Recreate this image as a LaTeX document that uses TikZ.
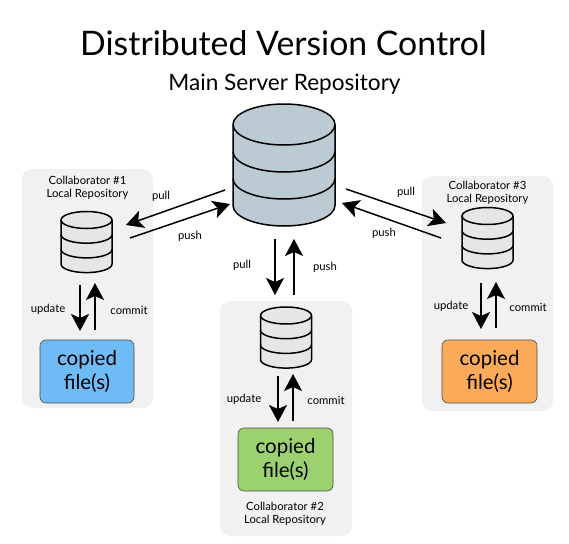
\documentclass[tikz,border=0pt]{standalone}
\usepackage{fontspec}
\setmainfont{Lato}
\usetikzlibrary{arrows.meta}
\definecolor{panelgray}{HTML}{F1F1F1}
\definecolor{mainblue}{HTML}{BCCAD3}
\definecolor{localgray}{HTML}{E6E6E6}
\definecolor{fileblue}{HTML}{6EBBF5}
\definecolor{filegreen}{HTML}{9BD16F}
\definecolor{fileorange}{HTML}{FBAA5A}
% #1 x, #2 top y, #3 rx, #4 ry, #5 gap, #6 fill, #7 line width
\newcommand{\dbstack}[7]{
	\filldraw[fill=#6, line width=#7] (#1-#3,#2) -- (#1-#3,#2+3*#5) arc[start angle=180, end angle=0, x radius=#3, y radius=#4] -- (#1+#3,#2) arc[start angle=0, end angle=-180, x radius=#3, y radius=#4];
	\foreach \k in {0,1,2}
		\draw[line width=#7] (#1-#3,#2+\k*#5) arc[start angle=180, end angle=0, x radius=#3, y radius=#4];
}
\tikzset{
	panel/.style={fill=panelgray, rounded corners=10pt},
	filebox/.style={draw=black!70, line width=0.6pt, rounded corners=6pt, minimum width=95pt, minimum height=63pt, align=center, inner sep=0pt, font=\fontsize{20.5}{24}\selectfont},
	label style/.style={font=\fontsize{11.3}{13}\selectfont, inner sep=0pt, align=center},
	flow/.style={->, line width=1.5pt}
}
\begin{document}
\begin{tikzpicture}[x=1pt, y=-1pt, line join=round, >={Stealth[length=17pt,width=18pt,inset=4pt]}]
	\useasboundingbox (0,0) rectangle (569,543);
	\node (title) at (283.5,43)[font=\fontsize{33.8}{40}\selectfont, inner sep=0pt]{Distributed Version Control};
	\node (subtitle) at (284.5,84)[font=\fontsize{22.6}{26}\selectfont, inner sep=0pt]{Main Server Repository};
	% panels
	\fill[panel] (22,169) rectangle (153,408);
	\fill[panel] (220,301) rectangle (352,536);
	\fill[panel] (422,176) rectangle (553,411);
	% databases
	\dbstack{284}{124.5}{51}{20.5}{27}{mainblue}{1.5pt}
	\dbstack{86.5}{220}{25.5}{8.5}{14.7}{localgray}{1.5pt}
	\dbstack{286}{315.5}{25.5}{8.5}{14.7}{localgray}{1.5pt}
	\dbstack{487.5}{216}{25.5}{8.5}{14.7}{localgray}{1.5pt}
	% file boxes
	\node (fileA) at (87,371.5)[filebox, fill=fileblue, minimum width=94pt]{copied\\file(s)};
	\node (fileB) at (285.5,459.5)[filebox, fill=filegreen]{copied\\file(s)};
	\node (fileC) at (489.5,371.5)[filebox, fill=fileorange]{copied\\file(s)};
	% labels
	\node (collabA) at (87.5,188)[label style]{Collaborator \#1\\Local Repository};
	\node (collabB) at (285,514)[label style]{Collaborator \#2\\Local Repository};
	\node (collabC) at (487.5,193)[label style]{Collaborator \#3\\Local Repository};
	\node (pullA) at (161,196)[label style]{pull};
	\node (pushA) at (190,236)[label style]{push};
	\node (pullB) at (242,265)[label style]{pull};
	\node (pushB) at (325,267)[label style]{push};
	\node (pullC) at (406,192)[label style]{pull};
	\node (pushC) at (384,233)[label style]{push};
	\node (updateA) at (48,309)[label style]{update};
	\node (commitA) at (129,310)[label style]{commit};
	\node (updateB) at (244,399)[label style]{update};
	\node (commitB) at (326,400)[label style]{commit};
	\node (updateC) at (451,306)[label style]{update};
	\node (commitC) at (528,307)[label style]{commit};
	% arrow ends
	\coordinate (pullAs) at (225,190);
	\coordinate (pullAe) at (126,225);
	\coordinate (pushAs) at (130,238);
	\coordinate (pushAe) at (230,204);
	\coordinate (pullBs) at (275,239);
	\coordinate (pullBe) at (275,295);
	\coordinate (pushBs) at (294,295);
	\coordinate (pushBe) at (294,239);
	\coordinate (pullCs) at (346,189);
	\coordinate (pullCe) at (446,223);
	\coordinate (pushCs) at (441,238);
	\coordinate (pushCe) at (342,203);
	\coordinate (updateAs) at (80,285);
	\coordinate (updateAe) at (80,331);
	\coordinate (commitAs) at (95,330);
	\coordinate (commitAe) at (95,283);
	\coordinate (updateBs) at (278,376);
	\coordinate (updateBe) at (278,422);
	\coordinate (commitBs) at (293,421);
	\coordinate (commitBe) at (293,374);
	\coordinate (updateCs) at (481,283);
	\coordinate (updateCe) at (481,329);
	\coordinate (commitCs) at (496,328);
	\coordinate (commitCe) at (496,282);
	\foreach \a in {pullA,pushA,pullB,pushB,pullC,pushC,updateA,commitA,updateB,commitB,updateC,commitC}
		\draw[flow] (\a s) -- (\a e);
\end{tikzpicture}
\end{document}
